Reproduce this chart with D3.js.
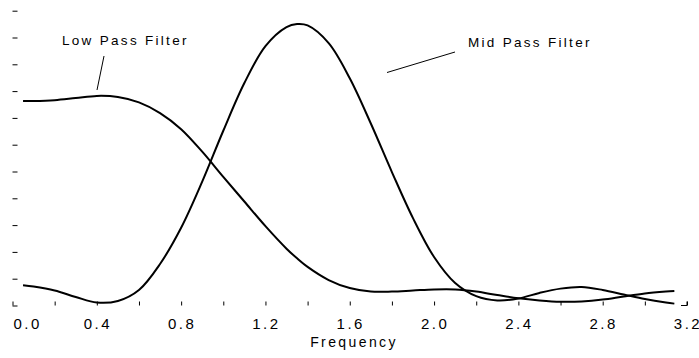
<!DOCTYPE html>
<html>
<head>
<meta charset="utf-8">
<script src="https://cdn.jsdelivr.net/npm/d3@7"></script>
<style>
  body { margin: 0; background: #fff; }
  svg text { font-family: "Liberation Sans", Arial, sans-serif; fill: #000; }
</style>
</head>
<body>
<svg id="chart" width="699" height="358"></svg>
<script>
// frequency samples (radians)
var freq = [0.05, 0.1, 0.2, 0.3, 0.4, 0.5, 0.6, 0.7, 0.8, 0.9, 1.0, 1.1, 1.2, 1.3, 1.35, 1.4,
            1.5, 1.6, 1.7, 1.8, 1.9, 2.0, 2.1, 2.2, 2.3, 2.4, 2.5, 2.6, 2.7, 2.8, 2.9, 3.0, 3.1, 3.14];

var lowPass = [0.763, 0.763, 0.766, 0.774, 0.782, 0.778, 0.758, 0.718, 0.658, 0.574, 0.480, 0.388,
               0.296, 0.212, 0.176, 0.144, 0.095, 0.065, 0.052, 0.052, 0.056, 0.060, 0.060, 0.052,
               0.039, 0.027, 0.019, 0.014, 0.015, 0.022, 0.034, 0.045, 0.052, 0.054];

var midPass = [0.076, 0.071, 0.056, 0.032, 0.011, 0.017, 0.058, 0.155, 0.290, 0.462, 0.652, 0.830,
               0.968, 1.039, 1.050, 1.045, 0.979, 0.848, 0.679, 0.498, 0.326, 0.181, 0.084, 0.035,
               0.019, 0.026, 0.047, 0.063, 0.069, 0.058, 0.041, 0.024, 0.011, 0.007];

var xTicks = [0, 0.2, 0.4, 0.6, 0.8, 1.0, 1.2, 1.4, 1.6, 1.8, 2.0, 2.2, 2.4, 2.6, 2.8, 3.0, 3.2];
var xLabels = [0, 0.4, 0.8, 1.2, 1.6, 2.0, 2.4, 2.8, 3.2];
var yTicks = [0, 0.1, 0.2, 0.3, 0.4, 0.5, 0.6, 0.7, 0.8, 0.9, 1.0, 1.1, 1.2];

var svg = d3.select("#chart");

var x = d3.scaleLinear().domain([0, 3.2]).range([12.5, 687]);
var y = d3.scaleLinear().domain([0, 1]).range([305.5, 37.5]);

// x ticks (no axis line), pointing up
svg.append("g")
    .attr("transform", "translate(0,305.5)")
    .call(d3.axisBottom(x).tickValues(xTicks).tickSizeInner(-4).tickSizeOuter(0).tickFormat(""))
    .call(g => g.select(".domain").remove())
    .call(g => g.selectAll("line").attr("stroke", "#000"));

// y ticks, pointing right
svg.append("g")
    .attr("transform", "translate(12.5,0)")
    .call(d3.axisLeft(y).tickValues(yTicks).tickSizeInner(-5).tickSizeOuter(0).tickFormat(""))
    .call(g => g.select(".domain").remove())
    .call(g => g.selectAll("line").attr("stroke", "#000"));

// bottom-right corner
svg.append("path")
    .attr("d", "M" + (x(3.2) - 6) + "," + y(0) + "H" + x(3.2) + "V" + (y(0) - 4))
    .attr("fill", "none").attr("stroke", "#000");

// tick labels
svg.append("g").selectAll("text")
    .data(xLabels)
    .enter()
    .append("text")
    .attr("x", d => x(d) + 1)
    .attr("y", 329)
    .attr("text-anchor", (d, i) => i == 0 ? "start" : "middle")
    .attr("font-size", 15)
    .attr("letter-spacing", 2.5)
    .text(d => d.toFixed(1));

svg.append("text")
    .attr("x", 354)
    .attr("y", 347)
    .attr("text-anchor", "middle")
    .attr("font-size", 14)
    .attr("letter-spacing", 2.4)
    .text("Frequency");

// curves
var line = d3.line()
    .x((d, i) => x(freq[i]))
    .y(d => y(d))
    .curve(d3.curveCatmullRom);

[lowPass, midPass].forEach(function(s) {
    svg.append("path")
        .attr("d", line(s))
        .attr("fill", "none")
        .attr("stroke", "#000")
        .attr("stroke-width", 2);
});

// annotations
svg.append("text")
    .attr("x", 62).attr("y", 45)
    .attr("font-size", 13.5).attr("letter-spacing", 2.3)
    .text("Low Pass Filter");
svg.append("line")
    .attr("x1", 104).attr("y1", 56).attr("x2", 97).attr("y2", 90)
    .attr("stroke", "#000");

svg.append("text")
    .attr("x", 468).attr("y", 47)
    .attr("font-size", 13.5).attr("letter-spacing", 2.3)
    .text("Mid Pass Filter");
svg.append("line")
    .attr("x1", 387).attr("y1", 72.5).attr("x2", 455).attr("y2", 52)
    .attr("stroke", "#000");
</script>
</body>
</html>
